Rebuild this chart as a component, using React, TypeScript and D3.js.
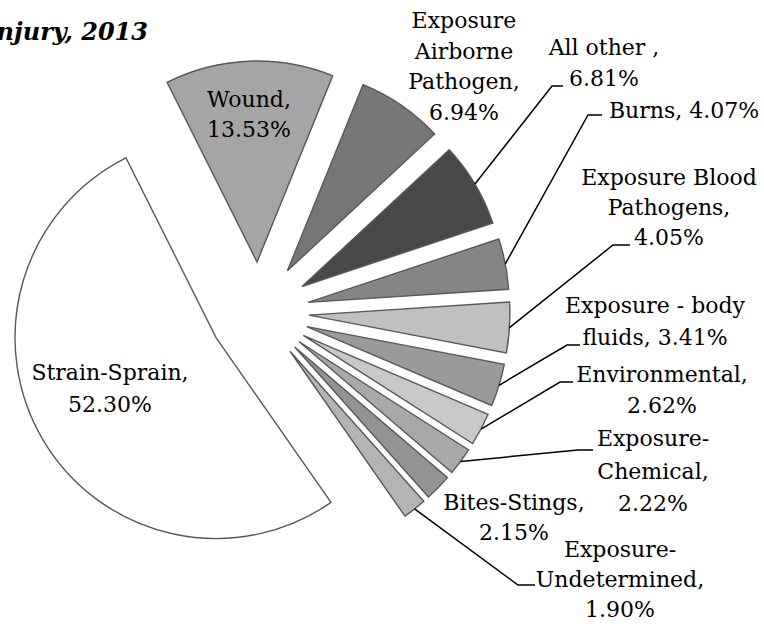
import React, {useEffect, useRef} from 'react';
import * as d3 from 'd3';

// slices, clockwise from the Wound wedge
const categories = [
  'Wound', 'Exposure Airborne Pathogen', 'All other', 'Burns',
  'Exposure Blood Pathogens', 'Exposure - body fluids', 'Environmental',
  'Exposure-Chemical', 'Bites-Stings', 'Exposure-Undetermined',
  'Strain-Sprain',
];
const values = [13.53, 6.94, 6.81, 4.07, 4.05, 3.41, 2.62, 2.22, 2.15, 1.90, 52.30];
const fills = [
  '#a5a5a5', '#767676', '#484848', '#858585', '#c0c0c0', '#9a9a9a',
  '#c8c8c8', '#a8a8a8', '#939393', '#b4b4b4', '#ffffff',
];
// label text lines, one entry per slice
const labelLines = [
  ['Wound,', '13.53%'],
  ['Exposure', 'Airborne', 'Pathogen,', '6.94%'],
  ['All other ,', '6.81%'],
  ['Burns, 4.07%'],
  ['Exposure Blood', 'Pathogens,', '4.05%'],
  ['Exposure - body', 'fluids, 3.41%'],
  ['Environmental,', '2.62%'],
  ['Exposure-', 'Chemical,', '2.22%'],
  ['Bites-Stings,', '2.15%'],
  ['Exposure-', 'Undetermined,', '1.90%'],
  ['Strain-Sprain,', '52.30%'],
];

// label layout: centre x, first baseline, line step, leader elbow (or null)
const labelLayout: {x: number; y: number; step: number;
  elbow: [number, number, number] | null}[] = [
  {x: 249, y: 107, step: 30, elbow: null},
  {x: 464, y: 28, step: 30.5, elbow: null},
  {x: 604, y: 55, step: 31, elbow: [552, 563, 86]},
  {x: 684, y: 118, step: 30, elbow: [588, 602, 115]},
  {x: 669, y: 185, step: 30, elbow: [613, 630, 245]},
  {x: 655, y: 313, step: 32, elbow: [567, 580, 345]},
  {x: 662, y: 382, step: 31, elbow: [560, 573, 382]},
  {x: 653, y: 446, step: 32.5, elbow: [578, 593, 450]},
  {x: 514, y: 510, step: 30, elbow: null},
  {x: 620, y: 557, step: 30, elbow: [518, 535, 585]},
  {x: 110, y: 380, step: 32, elbow: null},
];

const width = 764;
const height = 624;
const cx = 259;
const cy = 312;
const radius = 201;
const explode = 50;
const startDeg = -26.6;

export default function App() {
  const ref = useRef<SVGSVGElement>(null);

  useEffect(() => {
    const svg = d3.select(ref.current);
    svg.selectAll('*').remove();

    const pie = d3.pie<number>()
        .sort(null)
        .value((d) => d)
        .startAngle(startDeg * Math.PI / 180)
        .endAngle(startDeg * Math.PI / 180 + 2 * Math.PI);
    const arcs = pie(values);
    const arc = d3.arc<d3.PieArcDatum<number>>()
        .innerRadius(0)
        .outerRadius(radius);

    const g = svg.append('g')
        .attr('transform', `translate(${cx},${cy})`);

    const offset = (a: d3.PieArcDatum<number>, r: number) => {
      const mid = (a.startAngle + a.endAngle) / 2;
      return [r * Math.sin(mid), -r * Math.cos(mid)];
    };

    g.selectAll('path.slice')
        .data(arcs)
        .join('path')
        .attr('class', 'slice')
        .attr('d', arc)
        .attr('transform', (d) => {
          const [dx, dy] = offset(d, explode);
          return `translate(${dx},${dy})`;
        })
        .attr('fill', (d, i) => fills[i])
        .attr('stroke', '#595959')
        .attr('stroke-width', 1.4)
        .attr('stroke-linejoin', 'miter');

    // leader lines
    arcs.forEach((d, i) => {
      const lay = labelLayout[i];
      if (!lay.elbow) return;
      const [ox, oy] = offset(d, explode + radius);
      const [ex, hx, ey] = lay.elbow;
      svg.append('path')
          .attr('d', `M${cx + ox},${cy + oy}L${ex},${ey}L${hx},${ey}`)
          .attr('fill', 'none')
          .attr('stroke', '#000')
          .attr('stroke-width', 1.5);
    });

    // labels
    const labels = svg.append('g')
        .attr('font-family', '"DejaVu Serif", serif')
        .attr('font-size', 22)
        .attr('fill', '#000')
        .attr('text-anchor', 'middle');
    labelLines.forEach((lines, i) => {
      const lay = labelLayout[i];
      const t = labels.append('text');
      lines.forEach((line, j) => {
        t.append('tspan')
            .attr('x', lay.x)
            .attr('y', lay.y + j * lay.step)
            .text(line);
      });
    });

    // title (runs off the left edge, as in the source)
    svg.append('text')
        .attr('x', 148)
        .attr('y', 40)
        .attr('text-anchor', 'end')
        .attr('font-family', '"DejaVu Serif", serif')
        .attr('font-weight', 'bold')
        .attr('font-style', 'italic')
        .attr('font-size', 24)
        .text('Type of Injury, 2013');
  }, []);

  return (
    <div>
      <style>{'body{margin:0}'}</style>
      <svg ref={ref} width={width} height={height}
        style={{display: 'block', background: '#fff'}} />
    </div>
  );
}
